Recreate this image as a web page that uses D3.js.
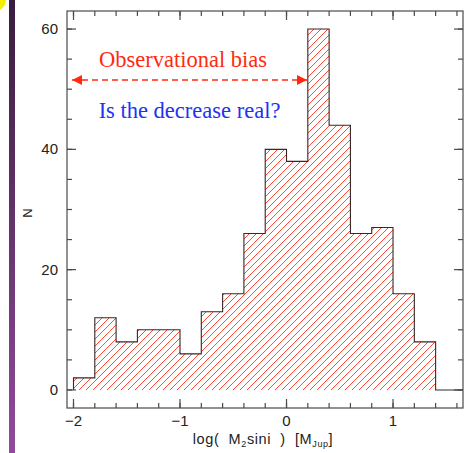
<!DOCTYPE html>
<html>
<head>
<meta charset="utf-8">
<script src="https://cdn.jsdelivr.net/npm/d3@7"></script>
<style>
  body { margin: 0; background: #fff; }
  svg { display: block; }
</style>
</head>
<body>
<div id="chart"></div>
<script>
// histogram of log(M2 sini), bins of 0.2 starting at -2.0
const binStart = -2.0;
const binWidth = 0.2;
const counts = [2, 12, 8, 10, 10, 6, 13, 16, 26, 40, 38, 60, 44, 26, 27, 16, 8, 0, 0];
const xTicks = [-2, -1, 0, 1];
const yTicks = [0, 20, 40, 60];

const W = 472, H = 453;
const frame = { left: 67, right: 463, top: 11, bottom: 408 };

const svg = d3.select("#chart").append("svg")
    .attr("width", W)
    .attr("height", H);

// slide decoration on the left
const defs = svg.append("defs");
const grad = defs.append("linearGradient")
    .attr("id", "bar").attr("x1", 0).attr("y1", 0).attr("x2", 0).attr("y2", 1);
grad.append("stop").attr("offset", "0%").attr("stop-color", "#3a1c3e");
grad.append("stop").attr("offset", "100%").attr("stop-color", "#904c9a");

svg.append("rect").attr("x", 9).attr("y", 0).attr("width", 6).attr("height", H)
    .attr("fill", "url(#bar)");
svg.append("circle").attr("cx", -5).attr("cy", 0).attr("r", 11).attr("fill", "#f5f000");

// hatch
const pat = defs.append("pattern")
    .attr("id", "hatch")
    .attr("patternUnits", "userSpaceOnUse")
    .attr("width", 7).attr("height", 7);
pat.append("path")
    .attr("d", "M-1,8 L8,-1 M-1,1 L1,-1 M6,8 L8,6")
    .attr("stroke", "#ff4a36")
    .attr("stroke-width", 1);

const x = d3.scaleLinear().domain([-2.061, 1.657]).range([frame.left, frame.right]);
const y = d3.scaleLinear().domain([-3, 63]).range([frame.bottom, frame.top]);

// step outline
const pts = [[binStart, 0]];
counts.forEach((c, i) => {
    const x0 = binStart + i * binWidth;
    pts.push([x0, c], [x0 + binWidth, c]);
});

defs.append("clipPath").attr("id", "clip")
  .append("rect")
    .attr("x", frame.left).attr("y", frame.top)
    .attr("width", frame.right - frame.left).attr("height", frame.bottom - frame.top);

const g = svg.append("g").attr("clip-path", "url(#clip)");

const line = d3.line().x(d => x(d[0])).y(d => y(d[1]));

g.append("path")
    .attr("d", line(pts.concat([[pts[pts.length - 1][0], 0]])) + "Z")
    .attr("fill", "url(#hatch)")
    .attr("stroke", "none");

g.append("path")
    .attr("d", line(pts))
    .attr("fill", "none")
    .attr("stroke", "#3a2626")
    .attr("stroke-width", 1.1);

// axes, ticks inward on all sides
const axisColor = "#4a4a4a";
const xMinor = d3.range(-2, 1.61, 0.2);
const yMinor = d3.range(0, 61, 5);

function tickLines(sel, vals, major) {
    const len = major ? 9 : 5;
    vals.forEach(v => {
        const xp = x(v);
        sel.append("line").attr("x1", xp).attr("x2", xp)
            .attr("y1", frame.bottom).attr("y2", frame.bottom - len);
        sel.append("line").attr("x1", xp).attr("x2", xp)
            .attr("y1", frame.top).attr("y2", frame.top + len);
    });
}
function tickLinesY(sel, vals, major) {
    const len = major ? 9 : 5;
    vals.forEach(v => {
        const yp = y(v);
        sel.append("line").attr("y1", yp).attr("y2", yp)
            .attr("x1", frame.left).attr("x2", frame.left + len);
        sel.append("line").attr("y1", yp).attr("y2", yp)
            .attr("x1", frame.right).attr("x2", frame.right - len);
    });
}

const ax = svg.append("g").attr("stroke", axisColor).attr("stroke-width", 1.2);
tickLines(ax, xMinor, false);
tickLines(ax, xTicks, true);
tickLinesY(ax, yMinor, false);
tickLinesY(ax, yTicks, true);

ax.append("rect")
    .attr("x", frame.left).attr("y", frame.top)
    .attr("width", frame.right - frame.left).attr("height", frame.bottom - frame.top)
    .attr("fill", "none");

const labelFont = "Liberation Sans, Arial, sans-serif";

svg.append("g").selectAll("text").data(xTicks).join("text")
    .attr("x", d => x(d))
    .attr("y", 426)
    .attr("text-anchor", "middle")
    .attr("font-family", labelFont)
    .attr("font-size", 15)
    .attr("fill", "#222")
    .text(d => d < 0 ? "\u2212" + Math.abs(d) : d);

svg.append("g").selectAll("text").data(yTicks).join("text")
    .attr("x", 58)
    .attr("y", d => y(d) + 5)
    .attr("text-anchor", "end")
    .attr("font-family", labelFont)
    .attr("font-size", 15)
    .attr("fill", "#222")
    .text(d => d);

svg.append("text")
    .attr("transform", "translate(32,213) rotate(-90)")
    .attr("text-anchor", "middle")
    .attr("font-family", labelFont)
    .attr("font-size", 13)
    .attr("fill", "#222")
    .text("N");

const xl = svg.append("text")
    .attr("x", 263).attr("y", 444)
    .attr("text-anchor", "middle")
    .attr("font-family", labelFont)
    .attr("font-size", 14.5)
    .attr("letter-spacing", 0.6)
    .attr("fill", "#222")
    .style("white-space", "pre");
xl.append("tspan").text("log(  M");
xl.append("tspan").attr("font-size", 9).attr("dy", 3).text("2");
xl.append("tspan").attr("dy", -3).text("sini  )  [M");
xl.append("tspan").attr("font-size", 9).attr("dy", 3).text("Jup");
xl.append("tspan").attr("dy", -3).text("]");

// annotations
const red = "#ff2a10";
defs.append("marker")
    .attr("id", "arr")
    .attr("viewBox", "0 0 10 10")
    .attr("refX", 10).attr("refY", 5)
    .attr("markerWidth", 10).attr("markerHeight", 10)
    .attr("markerUnits", "userSpaceOnUse")
    .attr("orient", "auto-start-reverse")
  .append("path").attr("d", "M0,0 L10,5 L0,10 Z").attr("fill", red);

svg.append("line")
    .attr("x1", 72).attr("x2", 307)
    .attr("y1", 80).attr("y2", 80)
    .attr("stroke", red)
    .attr("stroke-width", 1.6)
    .attr("stroke-dasharray", "6,4")
    .attr("marker-start", "url(#arr)")
    .attr("marker-end", "url(#arr)");

svg.append("text")
    .attr("x", 183).attr("y", 67)
    .attr("text-anchor", "middle")
    .attr("font-family", "Liberation Serif, Times New Roman, serif")
    .attr("font-size", 22.5)
    .attr("fill", red)
    .text("Observational bias");

svg.append("text")
    .attr("x", 189.5).attr("y", 118)
    .attr("text-anchor", "middle")
    .attr("font-family", "Liberation Serif, Times New Roman, serif")
    .attr("font-size", 22.5)
    .attr("fill", "#2233ee")
    .text("Is the decrease real?");
</script>
</body>
</html>
